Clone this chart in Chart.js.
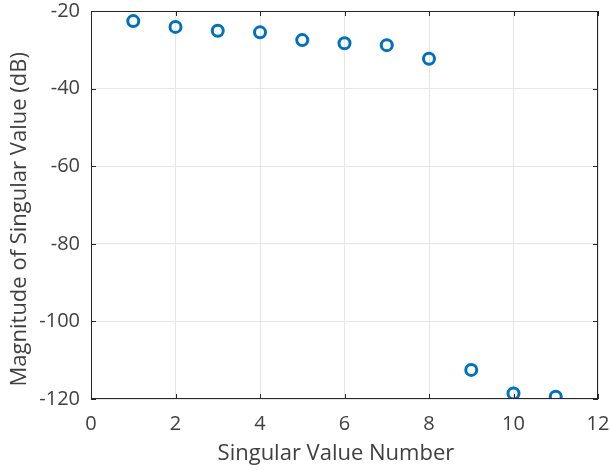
<!DOCTYPE html>
<html>
<head>
<meta charset="utf-8">
<script src="https://cdn.jsdelivr.net/npm/chart.js@4"></script>
<style>
    html, body { margin: 0; padding: 0; background: #ffffff; }
    #wrap { width: 610px; height: 470px; }
</style>
</head>
<body>
<div id="wrap"><canvas id="chart" width="610" height="470"></canvas></div>
<script>
// singular value index and magnitude (dB)
var svNumber = [1, 2, 3, 4, 5, 6, 7, 8, 9, 10, 11];
var svMagnitude = [-22.6, -24.1, -25.1, -25.5, -27.5, -28.3, -28.8, -32.3, -112.5, -118.6, -119.4];
var xTicks = [0, 2, 4, 6, 8, 10, 12];
var yTicks = [-20, -40, -60, -80, -100, -120];

var FONT = "'Open Sans', 'DejaVu Sans', sans-serif";
var TEXT = '#404040';
var AXIS = '#262626';

// box outline + inward tick marks like matlab
var boxPlugin = {
    id: 'box',
    afterDraw(chart) {
        var ctx = chart.ctx;
        var a = chart.chartArea;
        var xs = chart.scales.x, ys = chart.scales.y;
        ctx.save();
        ctx.strokeStyle = AXIS;
        ctx.lineWidth = 1;
        ctx.strokeRect(a.left + 0.5, a.top + 0.5, a.right - a.left - 1, a.bottom - a.top - 1);
        ctx.beginPath();
        xTicks.forEach(v => {
            var px = Math.round(xs.getPixelForValue(v)) + 0.5;
            ctx.moveTo(px, a.bottom); ctx.lineTo(px, a.bottom - 5);
            ctx.moveTo(px, a.top); ctx.lineTo(px, a.top + 5);
        });
        yTicks.forEach(v => {
            var py = Math.round(ys.getPixelForValue(v)) + 0.5;
            ctx.moveTo(a.left, py); ctx.lineTo(a.left + 5, py);
            ctx.moveTo(a.right, py); ctx.lineTo(a.right - 5, py);
        });
        ctx.stroke();
        ctx.restore();
    }
};

new Chart(document.getElementById('chart'), {
    type: 'scatter',
    data: {
        datasets: [{
            label: 'Singular values',
            data: svNumber.map((n, i) => ({ x: n, y: svMagnitude[i] })),
            pointRadius: 5.5,
            pointBorderWidth: 3,
            pointBorderColor: '#0072BD',
            pointBackgroundColor: 'rgba(0,0,0,0)',
            showLine: false
        }]
    },
    options: {
        responsive: false,
        animation: false,
        layout: { padding: { top: 11, right: 12, bottom: 0, left: 0 } },
        plugins: {
            legend: { display: false },
            tooltip: { enabled: false }
        },
        scales: {
            x: {
                type: 'linear',
                min: 0,
                max: 12,
                afterBuildTicks: s => { s.ticks = xTicks.map(v => ({ value: v })); },
                afterFit: s => { s.height = 71; s.paddingLeft = 0; s.paddingRight = 0; },
                border: { display: false },
                grid: { color: '#e6e6e6', drawTicks: false },
                ticks: { color: TEXT, font: { family: FONT, size: 20 }, padding: 13 },
                title: {
                    display: true,
                    // trailing spaces nudge the label left, as in the original
                    text: 'Singular Value Number   ',
                    color: TEXT,
                    font: { family: FONT, size: 22 },
                    padding: { top: 0, bottom: 3 }
                }
            },
            y: {
                type: 'linear',
                min: -120,
                max: -20,
                afterBuildTicks: s => { s.ticks = yTicks.map(v => ({ value: v })); },
                afterFit: s => { s.width = 91; s.paddingTop = 0; s.paddingBottom = 0; },
                border: { display: false },
                grid: { color: '#e6e6e6', drawTicks: false },
                ticks: { color: TEXT, font: { family: FONT, size: 20 }, padding: 11 },
                title: {
                    display: true,
                    text: 'Magnitude of Singular Value (dB)     ',
                    color: TEXT,
                    font: { family: FONT, size: 22 },
                    padding: { top: 7, bottom: 0 }
                }
            }
        }
    },
    plugins: [boxPlugin]
});
</script>
</body>
</html>
